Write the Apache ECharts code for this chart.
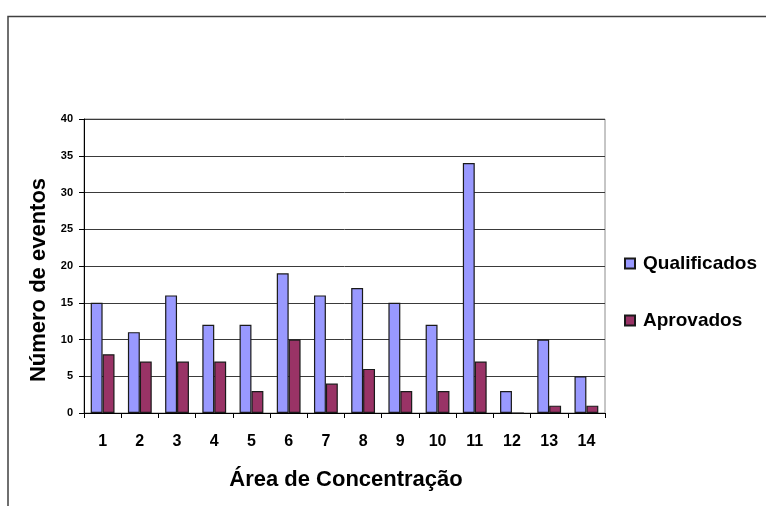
<!DOCTYPE html>
<html>
<head>
<meta charset="utf-8">
<script src="https://cdn.jsdelivr.net/npm/echarts@6/dist/echarts.min.js"></script>
<style>
  html, body { margin: 0; padding: 0; background: #fff; }
  #chart { width: 766px; height: 506px; }
</style>
</head>
<body>
<div id="chart"></div>
<script>
// Áreas de concentração (eixo X)
const categories = ['1', '2', '3', '4', '5', '6', '7', '8', '9', '10', '11', '12', '13', '14'];
// Número de eventos por área
const qualificados = [15, 11, 16, 12, 12, 19, 16, 17, 15, 12, 34, 3, 10, 5];
const aprovados = [8, 7, 7, 7, 3, 10, 4, 6, 3, 3, 7, 0, 1, 1];
// Marcas do eixo Y
const yMin = 0, yMax = 40, yStep = 5;

const FONT = '"Liberation Sans", Arial, sans-serif';

const chart = echarts.init(document.getElementById('chart'), null, { renderer: 'canvas' });

chart.setOption({
  animation: false,
  backgroundColor: '#fff',
  grid: {
    left: 84, top: 119, right: 161, bottom: 93,
    show: true, borderColor: '#8c8c8c', borderWidth: 1, backgroundColor: 'transparent'
  },
  legend: {
    orient: 'vertical',
    left: 619, top: 249,
    itemWidth: 10, itemHeight: 10, itemGap: 38,
    icon: 'rect',
    textStyle: { fontFamily: FONT, fontWeight: 'bold', fontSize: 19, color: '#000', padding: [0, 0, 0, 3] },
    data: ['Qualificados', 'Aprovados']
  },
  xAxis: {
    type: 'category',
    data: categories,
    axisLine: { lineStyle: { color: '#000', width: 1 } },
    axisTick: { show: true, inside: false, length: 5, lineStyle: { color: '#000' } },
    axisLabel: { fontFamily: FONT, fontWeight: 'bold', fontSize: 16, color: '#000', margin: 21 },
    splitLine: { show: false }
  },
  yAxis: {
    type: 'value',
    min: yMin, max: yMax, interval: yStep,
    axisLine: { show: true, lineStyle: { color: '#000', width: 1 } },
    axisTick: { show: true, inside: false, length: 5, lineStyle: { color: '#000' } },
    axisLabel: { fontFamily: FONT, fontWeight: 'bold', fontSize: 11, color: '#000', margin: 11 },
    splitLine: { show: true, lineStyle: { color: '#3a3a3a', width: 1 } }
  },
  series: [
    {
      name: 'Qualificados',
      type: 'bar',
      data: qualificados,
      barGap: '0%',
      barCategoryGap: '36%',
      itemStyle: { color: '#9999ff', borderColor: '#1a1a1a', borderWidth: 1.2 }
    },
    {
      name: 'Aprovados',
      type: 'bar',
      data: aprovados,
      barGap: '0%',
      barCategoryGap: '36%',
      itemStyle: { color: '#993366', borderColor: '#1a1a1a', borderWidth: 1.2 }
    }
  ],
  graphic: [
    {
      type: 'rect',
      silent: true,
      shape: { x: 8, y: 16.5, width: 900, height: 700 },
      style: { fill: 'none', stroke: '#404040', lineWidth: 1.5 },
      z: -1
    },
    {
      type: 'text',
      style: {
        text: 'Número de eventos',
        font: 'bold 22px ' + FONT,
        fill: '#000',
        textAlign: 'center',
        textVerticalAlign: 'middle'
      },
      x: 39,
      y: 280,
      rotation: Math.PI / 2
    },
    {
      type: 'text',
      style: {
        text: 'Área de Concentração',
        font: 'bold 22px ' + FONT,
        fill: '#000',
        textAlign: 'center',
        textVerticalAlign: 'middle'
      },
      x: 346,
      y: 480
    }
  ]
});
</script>
</body>
</html>
